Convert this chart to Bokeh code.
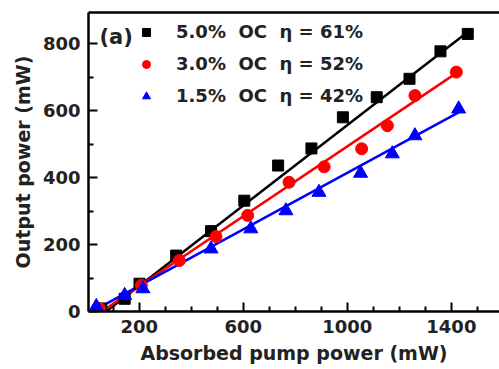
from bokeh.plotting import figure
from bokeh.models import (FixedTicker, Legend, LegendItem, Label, LinearAxis, Range1d)
from bokeh.embed import file_html
from bokeh.resources import INLINE

# ---- data ----
black_x = [54, 144, 201, 342, 476, 604, 734, 862, 983, 1113, 1239, 1358, 1463]
black_y = [9, 38, 83, 167, 240, 331, 436, 487, 580, 640, 695, 777, 829]
red_x = [47, 208, 354, 495, 617, 776, 911, 1055, 1154, 1260, 1419]
red_y = [9, 78, 152, 224, 287, 386, 432, 486, 555, 645, 715]
blue_x = [35, 144, 214, 476, 629, 764, 891, 1051, 1173, 1260, 1428]
blue_y = [15, 48, 68, 187, 247, 301, 356, 413, 471, 525, 605]

black_fit_x = [73, 1463]
black_fit_y = [0, 835]
red_fit_x = [55, 1419]
red_fit_y = [0, 712]
blue_fit_x = [30, 1428]
blue_fit_y = [5, 595]

labels = ["5.0%  OC  \u03b7 = 61%", "3.0%  OC  \u03b7 = 52%", "1.5%  OC  \u03b7 = 42%"]
x_ticks = [200, 600, 1000, 1400]
x_minor = [100, 300, 400, 500, 700, 800, 900, 1100, 1200, 1300, 1500]
y_ticks = [0, 200, 400, 600, 800]
y_minor = [100, 300, 500, 700]

FONT = "DejaVu Sans"

p = figure(width=499, height=369, output_backend="svg", toolbar_location=None,
           x_range=Range1d(5, 1585), y_range=Range1d(0, 893),
           min_border_left=88, min_border_right=0, min_border_top=12, min_border_bottom=58)
p.outline_line_color = None
p.grid.visible = False
p.background_fill_color = "white"
p.border_fill_color = "white"

for ax in (p.xaxis[0], p.yaxis[0]):
    ax.axis_line_width = 2.5
    ax.axis_line_color = "black"
    ax.major_tick_in = 9
    ax.major_tick_out = 0
    ax.minor_tick_in = 5
    ax.minor_tick_out = 0
    ax.major_tick_line_width = 2
    ax.minor_tick_line_width = 2
    ax.major_label_text_font = FONT
    ax.major_label_text_font_style = "bold"
    ax.major_label_text_font_size = "18px"
    ax.major_label_text_color = "#222222"
    ax.axis_label_text_font = FONT
    ax.axis_label_text_font_style = "bold"
    ax.axis_label_text_font_size = "19px"
    ax.axis_label_text_color = "#222222"
    ax.major_label_standoff = 8
    ax.axis_label_standoff = 6

p.xaxis[0].ticker = FixedTicker(ticks=x_ticks, minor_ticks=x_minor)
p.yaxis[0].ticker = FixedTicker(ticks=y_ticks, minor_ticks=y_minor)
p.xaxis[0].axis_label = "Absorbed pump power (mW)"
p.yaxis[0].axis_label = "Output power (mW)"

top = LinearAxis(ticker=FixedTicker(ticks=[], minor_ticks=[]),
                 major_tick_line_color=None, minor_tick_line_color=None,
                 axis_line_width=2.5, major_label_standoff=0)
p.add_layout(top, "above")

# fit lines
p.line(black_fit_x, black_fit_y, line_color="black", line_width=2.5)
p.line(red_fit_x, red_fit_y, line_color="red", line_width=2.5)
p.line(blue_fit_x, blue_fit_y, line_color="blue", line_width=2.5)

rb = p.scatter(black_x, black_y, marker="square", size=11, color="black")
rr = p.scatter(red_x, red_y, marker="circle", size=12, color="red")
rt = p.scatter(blue_x, blue_y, marker="triangle", size=14, color="blue")

leg = Legend(items=[LegendItem(label=labels[0], renderers=[rb]),
                    LegendItem(label=labels[1], renderers=[rr]),
                    LegendItem(label=labels[2], renderers=[rt])],
             location=(48, 205), padding=0, margin=0, spacing=11,
             glyph_width=20, glyph_height=20, label_height=20, label_standoff=20,
             border_line_color=None, background_fill_alpha=0,
             label_text_font=FONT, label_text_font_style="bold",
             label_text_font_size="18px", label_text_color="#222222")
p.add_layout(leg, "center")

p.add_layout(Label(x=11, y=263, x_units="screen", y_units="screen", text="(a)",
                   text_font=FONT, text_font_style="bold", text_font_size="21px",
                   text_color="#222222"))

open("out.html", "w").write(file_html(p, INLINE))
